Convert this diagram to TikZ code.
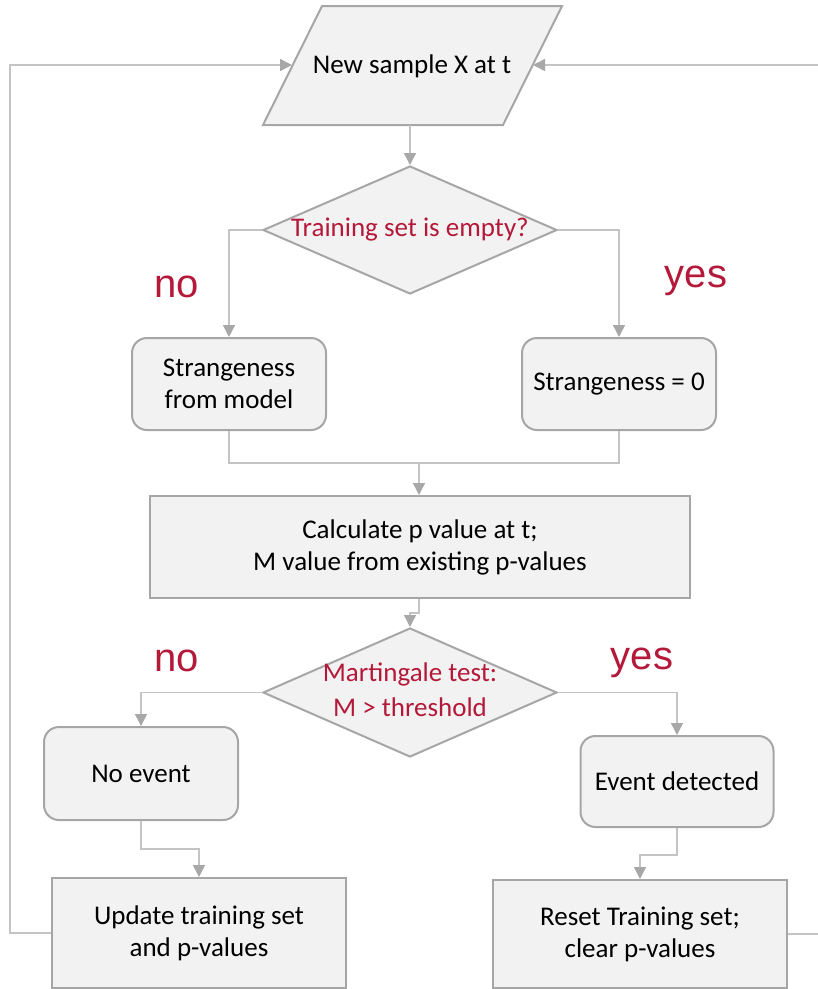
\documentclass[tikz,border=0pt]{standalone}
\usepackage{fontspec}
\setmainfont{Carlito}
\newfontfamily\labelfont{Liberation Sans}
\usetikzlibrary{shapes.geometric,arrows.meta}
\definecolor{boxfill}{HTML}{F2F2F2}
\definecolor{boxline}{HTML}{A6A6A6}
\definecolor{conline}{HTML}{C4C4C4}
\definecolor{tipgray}{HTML}{A8A8A8}
\definecolor{redtxt}{HTML}{B5193A}
\begin{document}
\begin{tikzpicture}[x=1pt,y=-1pt,
  base/.style={draw=boxline,fill=boxfill,line width=2pt,inner sep=0pt,align=center,
    font=\fontsize{27}{32}\selectfont},
  roundbox/.style={base,rectangle,rounded corners=15pt},
  sqbox/.style={base,rectangle},
  decision/.style={base,diamond,minimum width=294pt,minimum height=128pt,text=redtxt},
  conn/.style={draw=conline,line width=1.4pt,-{Triangle[width=12pt,length=12pt,color=tipgray,fill=tipgray]}},
  plainconn/.style={draw=conline,line width=1.4pt},
  yesno/.style={text=redtxt,font=\labelfont\fontsize{40}{44}\selectfont,inner sep=0pt}]
\clip (0,0) rectangle (818,989);
\useasboundingbox (0,0) rectangle (818,989);
% input parallelogram
\draw[draw=boxline,fill=boxfill,line width=2pt] (322,6) -- (562,6) -- (503,125) -- (263,125) -- cycle;
\node[font=\fontsize{27}{32}\selectfont,inner sep=0pt] (ns) at (412,66) {New sample X at t};
\coordinate (nsL) at (292,65);
\coordinate (nsR) at (533,65);
\coordinate (nsB) at (410,125);
% decision 1
\node[decision] (d1) at (410,230) {\makebox[0pt]{Training set is empty?}};
% strangeness boxes
\node[roundbox,minimum width=194pt,minimum height=92pt] (s1) at (229,384) {Strangeness\\from model};
\node[roundbox,minimum width=194pt,minimum height=92pt] (s0) at (619,384) {Strangeness = 0};
% calculate box
\node[sqbox,minimum width=540pt,minimum height=102pt] (calc) at (420,547) {Calculate p value at t;\\M value from existing p-values};
% decision 2
\node[decision,minimum height=129pt] (d2) at (410,692.5) {\makebox[0pt]{\raisebox{-2pt}{\begin{tabular}{@{}c@{}}Martingale test:\\[3pt]M > threshold\end{tabular}}}};
% event boxes
\node[roundbox,minimum width=194pt,minimum height=93pt] (ne) at (141,773.5) {No event};
\node[roundbox,minimum width=193pt,minimum height=91pt] (ed) at (677,781.5) {Event detected};
% bottom boxes
\node[sqbox,minimum width=294pt,minimum height=110pt] (up) at (199,933) {Update training set\\and p-values};
\node[sqbox,minimum width=294pt,minimum height=108pt] (rs) at (640,934) {Reset Training set;\\clear p-values};
% labels
\node[yesno] (no1) at (177,287) {no};
\node[yesno] (yes1) at (696,281) {yes};
\node[yesno] (no2) at (177,661) {no};
\node[yesno] (yes2) at (642,663) {yes};
% connectors
\draw[conn] (nsB) -- (d1.north);
\draw[conn] (d1.west) -| (s1.north);
\draw[conn] (d1.east) -| (s0.north);
\draw[plainconn] (s1.south) |- (419,463) -| (s0.south);
\draw[conn] (419,463) -- (calc.north -| 419,0);
\draw[conn] (calc.south -| 419,0) -- (419,613) -- (410,613) -- (d2.north);
\draw[conn] (d2.west) -| (ne.north);
\draw[conn] (d2.east) -| (ed.north);
\draw[conn] (ne.south) -- (141,849) -| (up.north);
\draw[conn] (ed.south) -- (677,855) -| (rs.north);
\draw[conn] (up.west) -- (10,933) |- (nsL);
\draw[conn] (rs.east) -- (840,934) |- (nsR);
\end{tikzpicture}
\end{document}
